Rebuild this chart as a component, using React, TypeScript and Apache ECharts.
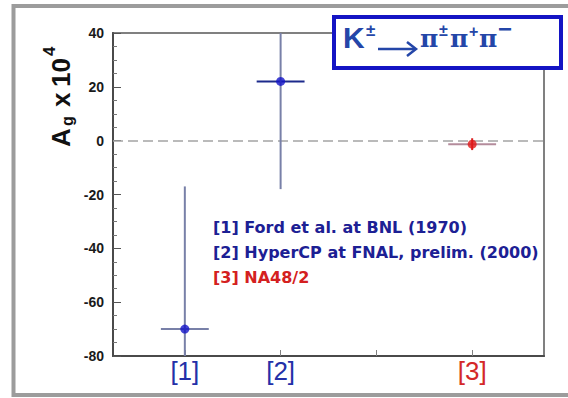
import React, { useEffect, useRef } from "react";
import * as echarts from "echarts";

// Measurements of the gamma-slope charge asymmetry A_g (in units of 1e-4)
const refLabels = ["[1]", "[2]", "[3]"];
const refPositions = [1, 2, 4];
const tickPositions = [1, 2, 3, 4];
const asymmetry = [-70, 22, -1.3];
const asymmetryError = [53, 40, 2.2];
const binHalfWidth = [0.25, 0.25, 0.25];
const legendLines = [
  "[1] Ford et al. at BNL (1970)",
  "[2] HyperCP at FNAL, prelim. (2000)",
  "[3] NA48/2",
];

const markerColors = ["#1414c8", "#1414c8", "#e01818"];
const verticalBarColors = ["#7880a8", "#7880a8", "#dc2020"];
const horizontalBarColors = ["#7880a8", "#1c2a8c", "#b48c9c"];
const labelColors = ["#2430a8", "#2430a8", "#d42828"];
const legendColors = ["#1c2094", "#1c2094", "#d42020"];

const SANS = '"Liberation Sans", Arial, sans-serif';
const SERIF = '"DejaVu Serif", "Liberation Serif", serif';
const TITLE_BLUE = "#2446a8";

export default function App() {
  const ref = useRef<HTMLDivElement>(null);

  useEffect(() => {
    if (!ref.current) return;
    const chart = echarts.init(ref.current, null, { renderer: "svg" });

    const points = refPositions.map((x, i) => [x, asymmetry[i]]);
    const bars = refPositions.map((x, i) => [x, asymmetry[i], asymmetryError[i], binHalfWidth[i]]);

    const rich: Record<string, any> = {};
    refLabels.forEach((_, i) => {
      rich["c" + i] = { color: labelColors[i], fontSize: 26, fontFamily: SANS };
    });

    const nameStyle = (text: string, size: number) => ({
      text,
      fontSize: size,
      fontWeight: "bold",
      fontFamily: SANS,
      fill: "#111",
      verticalAlign: "middle",
    });

    // rotated axis title: A_g x 10^4
    const yName = {
      type: "group",
      x: 70,
      y: 147,
      rotation: Math.PI / 2,
      children: [
        { type: "text", x: 0, y: -9, style: nameStyle("A", 26) },
        { type: "text", x: 21, y: -3, style: nameStyle("g", 16) },
        { type: "text", x: 40, y: -9, style: nameStyle("x", 26) },
        { type: "text", x: 60, y: -9, style: nameStyle("10", 26) },
        { type: "text", x: 91, y: -21, style: nameStyle("4", 17) },
      ],
    };

    const titleText = (text: string, x: number, y: number, size: number, family: string) => ({
      type: "text",
      x,
      y,
      style: { text, fontSize: size, fontWeight: "bold", fontFamily: family, fill: TITLE_BLUE, verticalAlign: "middle" },
    });

    const titleBox = {
      type: "group",
      z: 100,
      children: [
        { type: "rect", shape: { x: 334, y: 17, width: 227, height: 51 }, style: { fill: "#ffffff", stroke: "#1414c4", lineWidth: 4 } },
        titleText("K", 343, 37, 30, SANS),
        titleText("±", 366, 30, 17, SANS),
        { type: "line", shape: { x1: 378, y1: 49, x2: 415, y2: 49 }, style: { stroke: TITLE_BLUE, lineWidth: 2.5 } },
        { type: "polyline", shape: { points: [[407, 42], [416, 49], [407, 56]] }, style: { stroke: TITLE_BLUE, lineWidth: 2.5, fill: "none" } },
        titleText("π", 420, 38, 25, SERIF),
        titleText("±", 439, 30, 16, SANS),
        titleText("π", 450, 38, 25, SERIF),
        titleText("+", 469, 31, 16, SANS),
        titleText("π", 479, 38, 25, SERIF),
        titleText("−", 498, 28, 24, SANS),
      ],
    };

    const legend = legendLines.map((line, i) => ({
      type: "text",
      x: 213,
      y: 227 + i * 25,
      z: 50,
      style: {
        text: line,
        fontSize: 16,
        fontWeight: "bold",
        fontFamily: '"DejaVu Sans", sans-serif',
        fill: legendColors[i],
        verticalAlign: "middle",
      },
    }));

    chart.setOption({
      animation: false,
      backgroundColor: "#ffffff",
      grid: {
        left: 113,
        right: 24,
        top: 33,
        bottom: 42,
        show: true,
        borderColor: "#808080",
        borderWidth: 2,
        backgroundColor: "transparent",
      },
      xAxis: {
        type: "value",
        min: 0.25,
        max: 4.75,
        splitLine: { show: false },
        axisLine: { show: true, onZero: false, lineStyle: { color: "#4a4a4a", width: 2 } },
        axisTick: {
          show: true,
          inside: true,
          length: 6,
          customValues: tickPositions,
          lineStyle: { color: "#808080", width: 1 },
        },
        axisLabel: {
          customValues: refPositions,
          margin: 2,
          formatter: (v: number) => {
            const i = refPositions.indexOf(v);
            return i < 0 ? "" : `{c${i}|${refLabels[i]}}`;
          },
          rich,
        },
      },
      yAxis: {
        type: "value",
        min: -80,
        max: 40,
        interval: 20,
        splitLine: { show: false },
        axisLine: { show: true, onZero: false, lineStyle: { color: "#4a4a4a", width: 2 } },
        axisTick: { show: true, inside: true, length: 8, lineStyle: { color: "#555", width: 1 } },
        minorTick: { show: true, splitNumber: 4, length: 4, lineStyle: { color: "#777", width: 1 } },
        axisLabel: {
          margin: 9,
          fontSize: 14,
          fontWeight: "bold",
          fontFamily: SANS,
          color: "#1a1a1a",
        },
      },
      graphic: [
        {
          type: "rect",
          shape: { x: 13.5, y: 6, width: 600, height: 389 },
          style: { fill: "none", stroke: "#9c9c9c", lineWidth: 4 },
        },
        yName,
        ...legend,
        titleBox,
      ],
      series: [
        {
          type: "custom",
          z: 3,
          data: bars,
          renderItem: (params: any, api: any) => {
            const x = api.value(0);
            const y = api.value(1);
            const err = api.value(2);
            const hw = api.value(3);
            const i = params.dataIndex;
            const c = api.coord([x, y]);
            const top = api.coord([x, y + err]);
            const bot = api.coord([x, y - err]);
            const l = api.coord([x - hw, y]);
            const r = api.coord([x + hw, y]);
            const cs = params.coordSys;
            const clampY = (v: number) => Math.max(cs.y, Math.min(cs.y + cs.height, v));
            return {
              type: "group",
              children: [
                {
                  type: "line",
                  shape: { x1: l[0], y1: c[1], x2: r[0], y2: c[1] },
                  style: { stroke: horizontalBarColors[i], lineWidth: 2 },
                },
                {
                  type: "line",
                  shape: { x1: c[0], y1: clampY(top[1]), x2: c[0], y2: clampY(bot[1]) },
                  style: { stroke: verticalBarColors[i], lineWidth: 2 },
                },
              ],
            };
          },
        },
        {
          type: "scatter",
          z: 4,
          data: points,
          symbol: "circle",
          symbolSize: 9,
          itemStyle: { color: (p: any) => markerColors[p.dataIndex] },
          markLine: {
            silent: true,
            symbol: ["none", "none"],
            label: { show: false },
            lineStyle: { type: [10, 5], color: "#a4a4a4", width: 1.5 },
            data: [{ yAxis: 0 }],
            z: 1,
          },
        },
      ],
    });

    return () => chart.dispose();
  }, []);

  return (
    <div
      ref={ref}
      style={{ position: "absolute", left: 0, top: 0, width: 568, height: 398, background: "#fff" }}
    />
  );
}
